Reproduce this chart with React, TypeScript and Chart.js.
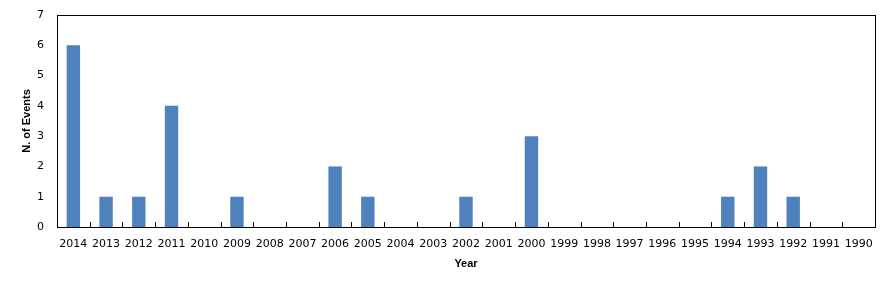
import React, { useEffect, useRef } from "react";
import { Chart, registerables } from "chart.js";

Chart.register(...registerables);

const years = [
  "2014", "2013", "2012", "2011", "2010", "2009", "2008", "2007", "2006", "2005",
  "2004", "2003", "2002", "2001", "2000", "1999", "1998", "1997", "1996", "1995",
  "1994", "1993", "1992", "1991", "1990",
];
const events = [6, 1, 1, 4, 0, 1, 0, 0, 2, 1, 0, 0, 1, 0, 3, 0, 0, 0, 0, 0, 1, 2, 1, 0, 0];
const yTitle = "N. of Events";
const xTitle = "Year";

const frame = {
  id: "frame",
  afterDatasetsDraw(chart: any) {
    const { ctx, chartArea } = chart;
    const xs = chart.scales.x;
    ctx.save();
    ctx.strokeStyle = "#000";
    ctx.lineWidth = 1;
    ctx.strokeRect(
      Math.round(chartArea.left) + 0.5,
      Math.round(chartArea.top) + 0.5,
      Math.round(chartArea.right - chartArea.left),
      Math.round(chartArea.bottom - chartArea.top)
    );
    const n = years.length;
    const step = (chartArea.right - chartArea.left) / n;
    ctx.beginPath();
    for (let i = 1; i < n; i++) {
      const x = Math.round(xs.getPixelForValue(i) - step / 2) + 0.5;
      ctx.moveTo(x, chartArea.bottom);
      ctx.lineTo(x, chartArea.bottom - 5);
    }
    ctx.stroke();
    ctx.restore();
  },
};

export default function App() {
  const ref = useRef<HTMLCanvasElement>(null);
  useEffect(() => {
    const chart = new Chart(ref.current!, {
      type: "bar",
      data: {
        labels: years,
        datasets: [
          {
            data: events,
            backgroundColor: "#4F81BD",
            borderWidth: 0,
            barPercentage: 0.41,
            categoryPercentage: 1,
          },
        ],
      },
      options: {
        animation: false,
        responsive: true,
        maintainAspectRatio: false,
        layout: { padding: { left: 0, right: 8, top: 7, bottom: 0 } },
        plugins: { legend: { display: false }, tooltip: { enabled: false } },
        scales: {
          x: {
            grid: { display: false, drawTicks: false },
            border: { display: false },
            ticks: {
              color: "#000",
              padding: 11,
              autoSkip: false,
              maxRotation: 0,
              font: { family: "DejaVu Sans", size: 11 },
            },
            title: {
              display: true,
              text: xTitle,
              color: "#000",
              padding: { top: 0, bottom: 11 },
              font: { family: "Liberation Sans", size: 11, weight: "bold" },
            },
            afterFit(scale: any) {
              scale.height = 274 - 219;
              scale.paddingLeft = 0;
              scale.paddingRight = 0;
            },
          },
          y: {
            min: 0,
            max: 7,
            grid: { display: false, drawTicks: false },
            border: { display: false },
            ticks: {
              stepSize: 1,
              color: "#000",
              padding: 13,
              font: { family: "DejaVu Sans", size: 11 },
            },
            title: {
              display: true,
              text: yTitle,
              color: "#000",
              padding: { top: 12, bottom: 0 },
              font: { family: "Liberation Sans", size: 11, weight: "bold" },
            },
            afterFit(scale: any) {
              scale.width = 49;
              scale.paddingTop = 0;
              scale.paddingBottom = 0;
            },
          },
        },
      },
      plugins: [frame],
    });
    return () => chart.destroy();
  }, []);
  return (
    <div style={{ width: 875, height: 274, position: "relative" }}>
      <canvas ref={ref} />
    </div>
  );
}
